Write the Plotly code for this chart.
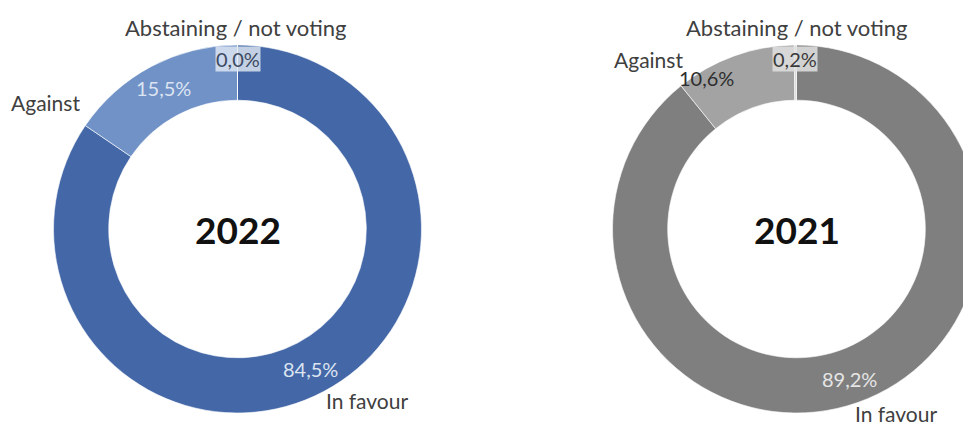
import math
import plotly.graph_objects as go

# ---- data ----
categories = ["In favour", "Against", "Abstaining / not voting"]
years = ["2022", "2021"]
values_2022 = [84.5, 15.5, 0.0]
values_2021 = [89.2, 10.6, 0.2]
pct_labels_2022 = ["84,5%", "15,5%", "0,0%"]
pct_labels_2021 = ["89,2%", "10,6%", "0,2%"]

# ---- styling / layout ----
OFF = 8  # page body margin
W, H = 973, 421
FONT = "Lato, 'Open Sans', sans-serif"
colors_2022 = ["#4468A7", "#7092C7", "#A9BEE0"]
colors_2021 = ["#7F7F7F", "#A3A3A3", "#D9D9D9"]

# screen-pixel geometry of each donut: center x, center y, outer radius
geo = {"2022": (237.5, 229.0, 184.0), "2021": (796.5, 229.0, 184.0)}
HOLE = 0.70


def px(x):
    return (x - OFF) / W


def py(y):
    return 1 - (y - OFF) / H


fig = go.Figure()
for yr, vals, cols in [("2022", values_2022, colors_2022), ("2021", values_2021, colors_2021)]:
    cx, cy, r = geo[yr]
    fig.add_trace(go.Pie(
        labels=categories,
        values=vals,
        hole=HOLE,
        sort=False,
        direction="clockwise",
        rotation=0,
        marker=dict(colors=cols, line=dict(color="#FFFFFF", width=0.6)),
        textinfo="none",
        hoverinfo="label+percent",
        showlegend=False,
        domain=dict(x=[px(cx - r), px(cx + r)], y=[py(cy + r), py(cy - r)]),
        name=yr,
    ))


def mid_pos(vals, i, yr):
    cx, cy, r = geo[yr]
    total = sum(vals)
    start = sum(vals[:i]) / total
    mid = (start + vals[i] / total / 2) * 2 * math.pi
    rm = r * (1 + HOLE) / 2
    return cx + rm * math.sin(mid), cy - rm * math.cos(mid)


ann = []


def add_text(x, y, text, size, color, bold=False, bg=None):
    ann.append(dict(
        x=px(x), y=py(y), xref="paper", yref="paper", text=("<b>%s</b>" % text) if bold else text,
        showarrow=False, xanchor="center", yanchor="middle",
        font=dict(family=FONT, size=size, color=color),
        bgcolor=bg if bg else "rgba(0,0,0,0)", borderpad=0,
    ))


# center year labels
for yr in years:
    cx, cy, r = geo[yr]
    add_text(cx, cy, yr, 37, "#111111", bold=True)

PS = 20
# 2022 percentages
x, y = mid_pos(values_2022, 0, "2022")
add_text(x, y + 2, pct_labels_2022[0], PS, "#DCE4F2")
x, y = mid_pos(values_2022, 1, "2022")
add_text(x - 1, y - 3, pct_labels_2022[1], PS, "#DCE4F2")
add_text(238, 59, pct_labels_2022[2], PS, "#3C4A62", bg="rgba(228,234,244,0.8)")

# 2021 percentages
x, y = mid_pos(values_2021, 0, "2021")
add_text(x + 1, y + 3, pct_labels_2021[0], PS, "#E6E6E6")
add_text(706, 78, pct_labels_2021[1], PS, "#2E2E2E")
add_text(795, 59, pct_labels_2021[2], PS, "#3A3A3A", bg="rgba(225,225,225,0.85)")

LS = 21
# category labels
add_text(235, 27, categories[2], 22, "#404040")
add_text(45, 103, categories[1], LS, "#404040")
add_text(367, 400, categories[0], LS, "#404040")
add_text(796, 27, categories[2], 22, "#404040")
add_text(648, 60, categories[1], LS, "#404040")
add_text(896, 413, categories[0], LS, "#404040")

fig.update_layout(
    width=W, height=H,
    margin=dict(l=0, r=0, t=0, b=0),
    paper_bgcolor="#FFFFFF", plot_bgcolor="#FFFFFF",
    annotations=ann,
    font=dict(family=FONT),
)
fig.write_html("out.html")
